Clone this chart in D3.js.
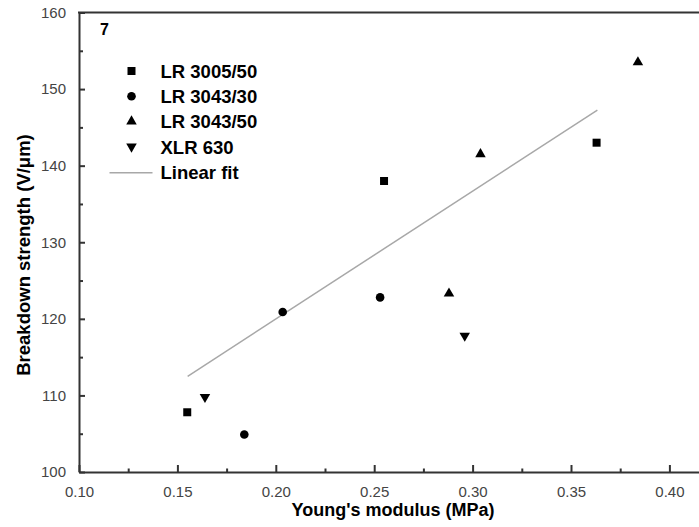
<!DOCTYPE html>
<html>
<head>
<meta charset="utf-8">
<script src="https://cdn.jsdelivr.net/npm/d3@7"></script>
<style>
  body { margin: 0; background: white; }
  svg { display: block; font-family: 'Liberation Sans', Arial, sans-serif; }
</style>
</head>
<body>
<main></main>
<script>
// Data
const seriesNames = ['LR 3005/50', 'LR 3043/30', 'LR 3043/50', 'XLR 630'];
const lr3005x = [0.155, 0.255, 0.363];
const lr3005y = [107.8, 138.0, 143.0];
const lr3043_30x = [0.184, 0.2035, 0.253];
const lr3043_30y = [104.9, 120.9, 122.8];
const lr3043_50x = [0.288, 0.304, 0.384];
const lr3043_50y = [123.3, 141.5, 153.5];
const xlr630x = [0.164, 0.296];
const xlr630y = [109.8, 117.8];
const fitX = [0.1552, 0.3634];
const fitY = [112.5, 147.25];
const xTicks = [0.10, 0.15, 0.20, 0.25, 0.30, 0.35, 0.40];
const yTicks = [100, 110, 120, 130, 140, 150, 160];

const width = 699;
const height = 527;
const plotLeft = 79;
const plotTop = 12.5;
const plotBottom = 472;
const pxPerUnit = 1968;

const xScale = d3.scaleLinear()
  .domain([0.10, 0.42])
  .range([plotLeft, plotLeft + 0.32 * pxPerUnit])

const yScale = d3.scaleLinear()
  .domain([100, 160])
  .range([plotBottom, plotTop])

const svg = d3.select('main')
  .append('svg')
  .attr('width', width)
  .attr('height', height)

const axisColor = '#333';
const labelColor = '#444';

// minor ticks
svg.append('g')
  .attr('transform', `translate(0, ${plotBottom})`)
  .call(d3.axisBottom(xScale)
    .tickValues(d3.range(0.125, 0.42, 0.05))
    .tickSizeInner(-3.5).tickSizeOuter(0).tickFormat(''))
  .call(g => g.select('.domain').remove())
  .selectAll('line').attr('stroke', axisColor).attr('stroke-width', 2)

svg.append('g')
  .attr('transform', `translate(${plotLeft}, 0)`)
  .call(d3.axisLeft(yScale)
    .tickValues([105, 115, 125, 135, 145, 155])
    .tickSizeInner(-4).tickSizeOuter(0).tickFormat(''))
  .call(g => g.select('.domain').remove())
  .selectAll('line').attr('stroke', axisColor).attr('stroke-width', 2)

// x-axis
const xAxisG = svg.append('g')
  .attr('id', 'x-axis')
  .attr('transform', `translate(0, ${plotBottom})`)
  .call(d3.axisBottom(xScale)
    .tickValues(xTicks)
    .tickSizeInner(-7).tickSizeOuter(0)
    .tickPadding(14)
    .tickFormat(d3.format('.2f')))

xAxisG.select('.domain').attr('stroke', axisColor).attr('stroke-width', 2)
xAxisG.selectAll('line').attr('stroke', axisColor).attr('stroke-width', 2)
xAxisG.selectAll('text')
  .attr('fill', labelColor)
  .style('font-size', '15px')
  .style('font-family', "'Liberation Sans', Arial, sans-serif")

// y-axis
const yAxisG = svg.append('g')
  .attr('id', 'y-axis')
  .attr('transform', `translate(${plotLeft}, 0)`)
  .call(d3.axisLeft(yScale)
    .tickValues(yTicks)
    .tickSizeInner(-6).tickSizeOuter(0)
    .tickPadding(13))

yAxisG.select('.domain').attr('stroke', axisColor).attr('stroke-width', 2)
yAxisG.selectAll('line').attr('stroke', axisColor).attr('stroke-width', 2)
yAxisG.selectAll('text')
  .attr('fill', labelColor)
  .style('font-size', '15px')
  .style('font-family', "'Liberation Sans', Arial, sans-serif")

// top border
svg.append('line')
  .attr('x1', plotLeft - 1).attr('x2', width + 5)
  .attr('y1', plotTop).attr('y2', plotTop)
  .attr('stroke', axisColor)
  .attr('stroke-width', 2)

// Axis titles
svg.append('text')
  .text("Young's modulus (MPa)")
  .attr('x', 393)
  .attr('y', 516)
  .attr('text-anchor', 'middle')
  .style('font-size', '18px')
  .style('font-weight', 'bold')

svg.append('text')
  .text('Breakdown strength (V/μm)')
  .attr('transform', 'rotate(-90)')
  .attr('x', -255)
  .attr('y', 30)
  .attr('text-anchor', 'middle')
  .style('font-size', '18.5px')
  .style('font-weight', 'bold')

// panel number
svg.append('text')
  .text('7')
  .attr('x', 100)
  .attr('y', 35)
  .style('font-size', '16px')
  .style('font-weight', 'bold')

// Linear fit
const fitData = fitX.map((x, i) => [x, fitY[i]]);
svg.append('path')
  .datum(fitData)
  .attr('d', d3.line().x(d => xScale(d[0])).y(d => yScale(d[1])))
  .attr('fill', 'none')
  .attr('stroke', '#a8a8a8')
  .attr('stroke-width', 1.5)

// Points
const series = [
  { name: seriesNames[0], xs: lr3005x, ys: lr3005y, type: d3.symbolSquare, size: 64, rot: 0 },
  { name: seriesNames[1], xs: lr3043_30x, ys: lr3043_30y, type: d3.symbolCircle, size: 58, rot: 0 },
  { name: seriesNames[2], xs: lr3043_50x, ys: lr3043_50y, type: d3.symbolTriangle, size: 48, rot: 0 },
  { name: seriesNames[3], xs: xlr630x, ys: xlr630y, type: d3.symbolTriangle, size: 48, rot: 180 }
];

series.forEach(s => {
  const pts = s.xs.map((x, i) => [x, s.ys[i]]);
  svg.append('g')
    .selectAll('path')
    .data(pts)
    .enter()
    .append('path')
    .attr('d', d3.symbol().type(s.type).size(s.size))
    .attr('transform', d => `translate(${xScale(d[0])}, ${yScale(d[1])}) rotate(${s.rot})`)
    .attr('fill', '#000')
})

// Legend
const legend = svg.append('g')
  .attr('transform', 'translate(131.5, 71)')

series.forEach((s, i) => {
  const row = legend.append('g')
    .attr('transform', `translate(0, ${i * 25.2})`)
  row.append('path')
    .attr('d', d3.symbol().type(s.type).size(s.size))
    .attr('transform', `rotate(${s.rot})`)
    .attr('fill', '#000')
  row.append('text')
    .text(s.name)
    .attr('x', 29)
    .attr('y', 7)
    .style('font-size', '18.5px')
    .style('font-weight', 'bold')
})

const fitRow = legend.append('g')
  .attr('transform', `translate(0, ${4 * 25.2})`)
fitRow.append('line')
  .attr('x1', -22).attr('x2', 21)
  .attr('y1', 1).attr('y2', 1)
  .attr('stroke', '#a8a8a8')
  .attr('stroke-width', 1.5)
fitRow.append('text')
  .text('Linear fit')
  .attr('x', 29)
  .attr('y', 7)
  .style('font-size', '18.5px')
  .style('font-weight', 'bold')
</script>
</body>
</html>
